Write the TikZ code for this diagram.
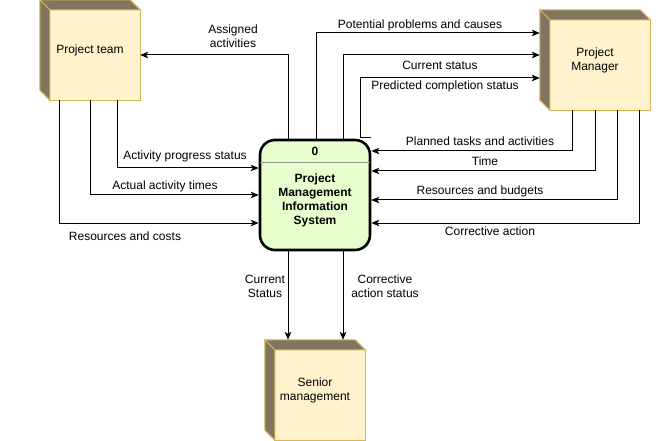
\documentclass[tikz,border=0pt]{standalone}
\usepackage{fontspec}
\setmainfont{Liberation Sans}
\usetikzlibrary{arrows.meta}
\pgfdeclarelayer{bg}
\pgfsetlayers{bg,main}
\definecolor{cubefront}{HTML}{FFF2CC}
\definecolor{cubeline}{HTML}{D6B656}
\definecolor{cubedark}{RGB}{128,118,96}
\definecolor{procfill}{HTML}{E6FFCC}
\definecolor{divgray}{RGB}{150,150,150}
\tikzset{
  cubenode/.style={draw=none, inner sep=0pt, align=center, font=\fontsize{12}{14}\selectfont},
  flow/.style={draw=black, line width=1pt, -{Stealth[length=8pt,width=6.5pt,inset=2pt]}},
  flowline/.style={draw=black, line width=1pt},
  lbl/.style={inner sep=0pt, align=center, font=\fontsize{12}{14}\selectfont},
  proc/.style={draw=black, line width=2.6pt, fill=procfill, rounded corners=15pt, minimum width=110pt, minimum height=110pt, inner sep=0pt},
  proctext/.style={inner sep=0pt, align=center, font=\fontsize{12}{14}\selectfont\bfseries}
}
\newcommand\cubefaces[1]{%
  \begin{pgfonlayer}{bg}
    \filldraw[fill=cubefront, draw=cubeline, line width=1pt]
      ([xshift=10pt,yshift=-10pt]#1.north west) rectangle (#1.south east);
    \filldraw[fill=cubedark, draw=cubeline, line width=1pt]
      (#1.north west) -- ([xshift=-10pt]#1.north east) -- ([yshift=-10pt]#1.north east)
      -- ([xshift=10pt,yshift=-10pt]#1.north west) -- cycle;
    \filldraw[fill=cubedark, draw=cubeline, line width=1pt]
      (#1.north west) -- ([xshift=10pt,yshift=-10pt]#1.north west)
      -- ([xshift=10pt]#1.south west) -- ([yshift=10pt]#1.south west) -- cycle;
  \end{pgfonlayer}}
\begin{document}
\begin{tikzpicture}[x=1pt,y=-1pt]
\useasboundingbox (0,0) rectangle (659,441);
\begin{pgfonlayer}{bg}
\fill[white] (0,0) rectangle (659,441);
\end{pgfonlayer}

% cubes
\node[cubenode, minimum width=100pt, minimum height=100pt] (pt) at (90,50) {Project team};
\cubefaces{pt}
\node[cubenode, minimum width=110pt, minimum height=100pt] (pm) at (595,60) {Project\\Manager};
\cubefaces{pm}
\node[cubenode, minimum width=100pt, minimum height=100pt] (sm) at (315,390) {Senior\\management};
\cubefaces{sm}

% process
\node[proc] (pis) at (315,195) {};
\draw[divgray, line width=1pt] ([yshift=-24pt]pis.north west) ++(1.3,0) -- ([xshift=-1.3pt,yshift=-24pt]pis.north east);
\node[proctext] (pisnum) at (315,151) {0};
\node[proctext] (pisname) at (315,200) {Project\\Management\\Information\\System};

% connectors top
\draw[flow] ([xshift=-27pt]pis.north) |- ([yshift=-5pt]pt.east);
\draw[flow] ([xshift=1pt]pis.north) |- ([yshift=27pt]pm.west);
\draw[flow] ([xshift=28pt]pis.north) |- ([yshift=5pt]pm.west);
\draw[flow] ([xshift=56pt,yshift=1pt]pis.north) -- ++(-11,0) |- ([yshift=-18pt]pm.west);

% connectors from PM
\draw[flow] ([xshift=33pt]pm.south west) |- ([yshift=44pt]pis.east);
\draw[flow] (pm.south) |- ([yshift=24pt]pis.east);
\draw[flow] ([xshift=78pt]pm.south west) |- ([yshift=-5pt]pis.east);
\draw[flow] ([xshift=100pt]pm.south west) |- ([yshift=-28pt]pis.east);

% connectors from project team
\draw[flow] ([xshift=78pt]pt.south west) |- ([yshift=27pt]pis.west);
\draw[flow] (pt.south) |- (pis.west);
\draw[flow] ([xshift=20pt]pt.south west) |- ([yshift=-28pt]pis.west);

% connectors to senior management
\draw[flow] ([xshift=-27pt]pis.south) -- ([xshift=-27pt]sm.north);
\draw[flow] ([xshift=28pt]pis.south) -- ([xshift=28pt]sm.north);

% labels
\node[lbl] (l1) at (233,36) {Assigned\\activities};
\node[lbl] (l2) at (420,25) {Potential problems and causes};
\node[lbl] (l3) at (440,65) {Current status};
\node[lbl] (l4) at (445,86) {Predicted completion status};
\node[lbl] (l5) at (480,141) {Planned tasks and activities};
\node[lbl] (l6) at (485,161) {Time};
\node[lbl] (l7) at (480,191) {Resources and budgets};
\node[lbl] (l8) at (490,231) {Corrective action};
\node[lbl] (l9) at (185,156) {Activity progress status};
\node[lbl] (l10) at (165,186) {Actual activity times};
\node[lbl] (l11) at (125,236) {Resources and costs};
\node[lbl] (l12) at (265,286) {Current\\Status};
\node[lbl] (l13) at (385,286) {Corrective\\action status};
\end{tikzpicture}
\end{document}
